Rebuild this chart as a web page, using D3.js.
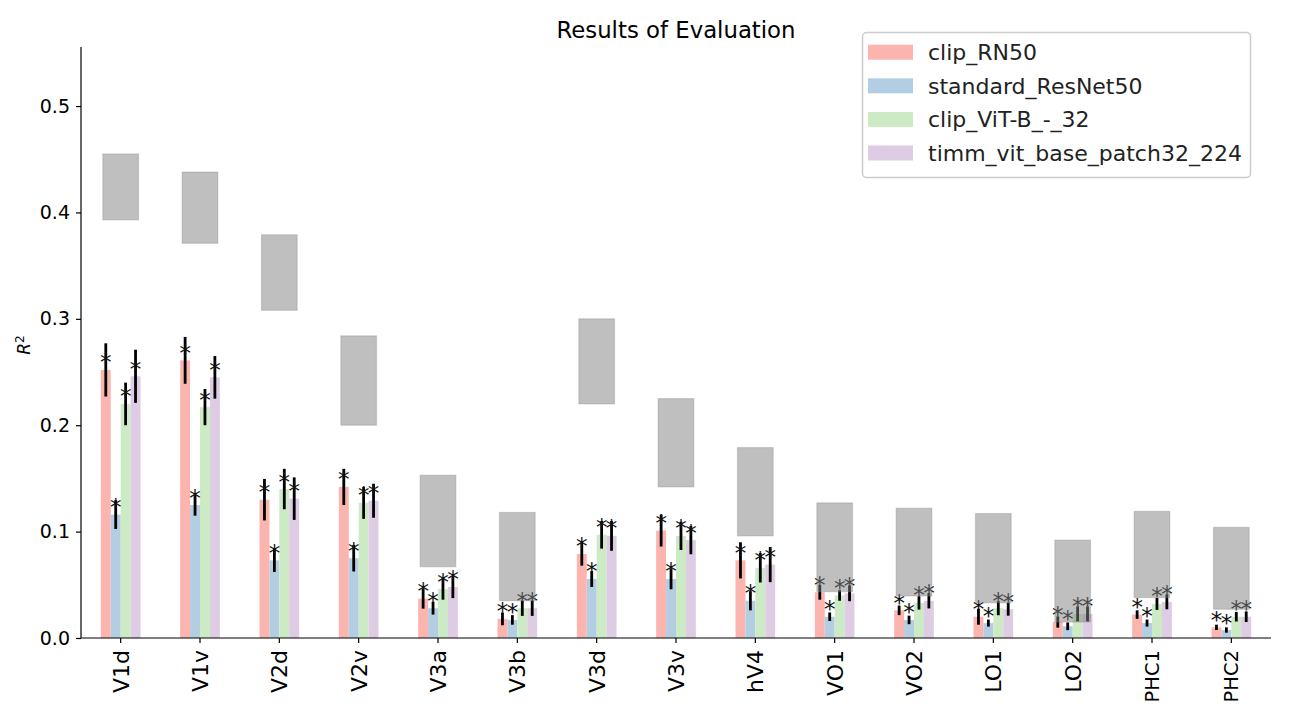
<!DOCTYPE html>
<html>
<head>
<meta charset="utf-8">
<script src="https://cdn.jsdelivr.net/npm/d3@7"></script>
<style>
  html, body { margin: 0; padding: 0; background: #fff; }
  svg { display: block; font-family: "DejaVu Sans", sans-serif; }
</style>
</head>
<body>
<svg id="chart" width="1296" height="710"></svg>
<script>
const categories = ["V1d","V1v","V2d","V2v","V3a","V3b","V3d","V3v","hV4","VO1","VO2","LO1","LO2","PHC1","PHC2"];
const seriesNames = ["clip_RN50","standard_ResNet50","clip_ViT-B_-_32","timm_vit_base_patch32_224"];
const clipRN50 =      [0.252,0.261,0.130,0.142,0.037,0.018,0.079,0.101,0.073,0.043,0.026,0.020,0.015,0.022,0.010];
const clipRN50Err =   [0.025,0.022,0.0195,0.017,0.0094,0.006,0.011,0.015,0.017,0.007,0.0045,0.0075,0.0053,0.004,0.0025];
const resNet50 =      [0.116,0.125,0.073,0.075,0.028,0.017,0.0555,0.0555,0.035,0.020,0.017,0.014,0.011,0.014,0.0075];
const resNet50Err =   [0.0135,0.010,0.011,0.0125,0.006,0.0045,0.0075,0.0097,0.009,0.004,0.004,0.0033,0.0036,0.0033,0.0025];
const clipViT =       [0.220,0.217,0.140,0.127,0.046,0.028,0.097,0.096,0.066,0.040,0.033,0.028,0.0226,0.032,0.020];
const clipViTErr =    [0.020,0.017,0.019,0.015,0.010,0.0072,0.013,0.0133,0.0138,0.005,0.0063,0.0066,0.007,0.0056,0.0045];
const timmViT =       [0.246,0.245,0.131,0.129,0.048,0.028,0.096,0.092,0.069,0.042,0.035,0.027,0.0226,0.034,0.020];
const timmViTErr =    [0.025,0.020,0.020,0.016,0.0105,0.0072,0.014,0.0133,0.0165,0.0074,0.0072,0.006,0.007,0.007,0.005];
const ceilingLow =    [0.393,0.371,0.308,0.200,0.067,0.035,0.220,0.142,0.096,0.0435,0.0395,0.033,0.015,0.038,0.027];
const ceilingHigh =   [0.455,0.438,0.379,0.284,0.153,0.118,0.300,0.225,0.179,0.127,0.122,0.117,0.092,0.119,0.104];
const yTicks = [0.0,0.1,0.2,0.3,0.4,0.5];
const chartTitle = "Results of Evaluation";

const seriesValues = [clipRN50, resNet50, clipViT, timmViT];
const seriesErrors = [clipRN50Err, resNet50Err, clipViTErr, timmViTErr];
const colors = ["#fbb4ae","#b3cde3","#ccebc5","#decbe4"];

const svg = d3.select("#chart");
const mLeft = 81, mRight = 1271, mTop = 47, mBottom = 638;

const x = d3.scaleBand().domain(categories).range([mLeft, mRight]).padding(0);
const xs = d3.scaleLinear().domain([-0.5, categories.length - 0.5]).range([mLeft, mRight]);
const y = d3.scaleLinear().domain([0, 0.5555]).range([mBottom, mTop]);
const barW = 0.125;
const boxW = 0.45;

const g = svg.append("g");

// bars
seriesValues.forEach((vals, s) => {
  const off = (s - 1.5) * barW;
  g.append("g").selectAll("rect").data(vals).join("rect")
    .attr("x", (d, i) => xs(i + off - barW / 2))
    .attr("width", xs(barW) - xs(0))
    .attr("y", d => y(d))
    .attr("height", d => y(0) - y(d))
    .attr("fill", colors[s]);
});
// error bars
seriesValues.forEach((vals, s) => {
  const off = (s - 1.5) * barW;
  const errs = seriesErrors[s];
  g.append("g").selectAll("line").data(vals).join("line")
    .attr("x1", (d, i) => xs(i + off)).attr("x2", (d, i) => xs(i + off))
    .attr("y1", (d, i) => y(d - errs[i])).attr("y2", (d, i) => y(d + errs[i]))
    .attr("stroke", "#000").attr("stroke-width", 2.8);
});
// stars
seriesValues.forEach((vals, s) => {
  const off = (s - 1.5) * barW;
  g.append("g").selectAll("text").data(vals).join("text")
    .attr("x", (d, i) => xs(i + off))
    .attr("y", d => y(d + 0.0125))
    .attr("dy", "0.6em")
    .attr("text-anchor", "middle")
    .attr("font-size", 23)
    .attr("fill", "#111")
    .text("*");
});
// noise ceiling boxes
g.append("g").selectAll("rect").data(ceilingHigh).join("rect")
  .attr("x", (d, i) => xs(i - boxW / 2))
  .attr("width", xs(boxW) - xs(0))
  .attr("y", d => y(d))
  .attr("height", (d, i) => y(ceilingLow[i]) - y(d))
  .attr("fill", "rgba(128,128,128,0.5)")
  .attr("stroke", "rgba(128,128,128,0.3)")
  .attr("stroke-width", 1.2);

// axes
const yAxis = d3.axisLeft(y).tickValues(yTicks).tickFormat(d3.format(".1f")).tickSize(5).tickPadding(6);
const ya = svg.append("g").attr("transform", `translate(${mLeft},0)`).call(yAxis);
ya.select(".domain").attr("d", `M0,${mTop}V${mBottom}`).attr("stroke", "#000").attr("stroke-width", 1.2);
ya.selectAll(".tick line").attr("stroke", "#000").attr("stroke-width", 1.2);
ya.selectAll(".tick text").attr("font-size", 19).attr("fill", "#000").attr("font-family", "DejaVu Sans");

const xAxis = d3.axisBottom(x).tickSize(5).tickFormat("");
const xa = svg.append("g").attr("transform", `translate(0,${mBottom})`).call(xAxis);
xa.select(".domain").attr("d", `M${mLeft},0H${mRight}`).attr("stroke", "#000").attr("stroke-width", 1.2);
xa.selectAll(".tick line").attr("stroke", "#000").attr("stroke-width", 1.2);
xa.selectAll(".tick").append("text")
  .attr("transform", "translate(0,12) rotate(-90)")
  .attr("text-anchor", "end")
  .attr("dy", "0.36em")
  .attr("fill", "#000")
  .attr("font-family", "DejaVu Sans")
  .attr("font-size", d => d.length > 3 ? 19.5 : 22)
  .text(d => d);

// title
svg.append("text").attr("x", 676).attr("y", 38).attr("text-anchor", "middle")
  .attr("font-size", 22.8).attr("fill", "#000").text(chartTitle);

// y label
const yl = svg.append("text").attr("transform", "translate(30,345) rotate(-90)")
  .attr("text-anchor", "middle").attr("font-size", 17).attr("fill", "#000");
yl.append("tspan").attr("font-style", "italic").text("R");
yl.append("tspan").attr("dy", "-0.5em").attr("font-size", 12).text("2");

// legend
const lg = svg.append("g").attr("transform", "translate(862,32)");
lg.append("rect").attr("x", 0.5).attr("y", 0.5).attr("width", 388).attr("height", 145)
  .attr("rx", 4).attr("fill", "rgba(255,255,255,0.8)").attr("stroke", "#cccccc").attr("stroke-width", 1.5);
seriesNames.forEach((n, s) => {
  const cy = 20.2 + s * 33.6;
  lg.append("rect").attr("x", 6).attr("y", cy - 7.5).attr("width", 45).attr("height", 15).attr("fill", colors[s]);
  lg.append("text").attr("x", 66).attr("y", cy).attr("dy", "0.36em")
    .attr("font-size", 22).attr("fill", "#222").text(n);
});
</script>
</body>
</html>
